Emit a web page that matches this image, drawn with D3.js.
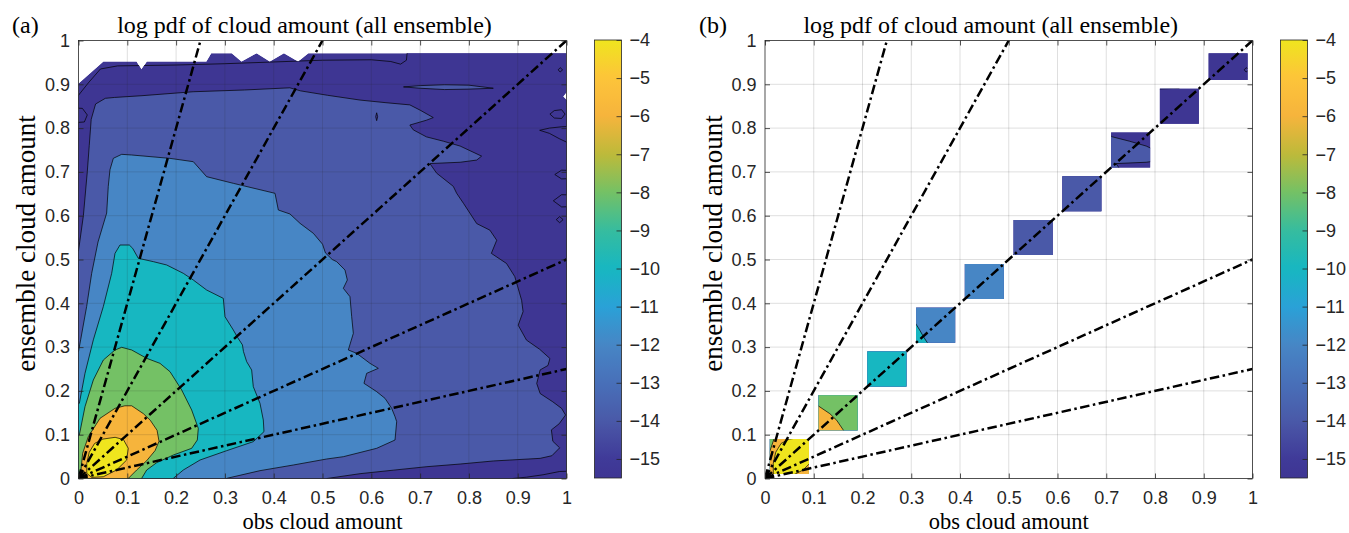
<!DOCTYPE html>
<html>
<head>
<meta charset="utf-8">
<script src="https://cdn.jsdelivr.net/npm/d3@7/dist/d3.min.js"></script>
<style>
  html, body { margin: 0; padding: 0; background: #fff; }
  svg { display: block; }
</style>
</head>
<body>
<svg id="fig" width="1349" height="533" xmlns="http://www.w3.org/2000/svg"></svg>
<script>
// ---------- axis ticks ----------
const tickValues = [0, 0.1, 0.2, 0.3, 0.4, 0.5, 0.6, 0.7, 0.8, 0.9, 1];
const tickLabels = ["0", "0.1", "0.2", "0.3", "0.4", "0.5", "0.6", "0.7", "0.8", "0.9", "1"];
const cbarTickValues = [-4, -5, -6, -7, -8, -9, -10, -11, -12, -13, -14, -15];
const cbarTickLabels = ["−4", "−5", "−6", "−7", "−8", "−9", "−10", "−11", "−12", "−13", "−14", "−15"];
const colorLimits = [-15.5, -4];

// ---------- colour map (value -> colour) ----------
const cmapValues = [-15.5, -15, -14, -13, -12, -11, -10, -9, -8, -7, -6, -5, -4];
const cmapColors = ["#3e3693", "#403a98", "#4a59a8", "#4870b9", "#4786c5", "#2aa1d7",
                    "#17b7c1", "#36bc9f", "#74c165", "#bdba3a", "#f6b43c", "#fdc43a", "#efe51e"];

// ---------- reference rays y = k * x ----------
const rayRatios = [4, 2, 1, 0.5, 0.25];

// ---------- diagonal bins (panel b) ----------
const diagBinStarts = [0.01, 0.11, 0.21, 0.31, 0.41, 0.51, 0.61, 0.71, 0.81, 0.91];
const diagBinWidth = 0.08;

// ---------- sampled region (upper edge of the ensemble cloud amounts) ----------
const dataCeiling = [[-0.02, 0.902], [0, 0.902], [0.051, 0.952], [0.119, 0.952], [0.129, 0.934],
  [0.140, 0.952], [0.262, 0.952], [0.272, 0.971], [0.314, 0.971], [0.334, 0.952], [0.365, 0.971],
  [0.392, 0.952], [0.421, 0.971], [0.450, 0.952], [0.471, 0.971], [1.0, 0.971], [1.0, 0.882],
  [0.993, 0.872], [1.0, 0.864], [1.03, 0.864], [1.03, -0.03], [-0.02, -0.03]];

// ---------- contour levels of log pdf ----------
const contourLevels = [-16, -14, -12, -10, -8, -6, -4];

// log pdf >= -16 (outer ring followed by the low-value pockets)
const above16 = [
  [[-0.02, 0.870], [0.0, 0.875], [0.02, 0.903], [0.045, 0.935], [0.08, 0.942], [0.2, 0.944],
   [0.3, 0.947], [0.4, 0.951], [0.5, 0.955], [0.6, 0.956], [0.64, 0.952], [0.66, 0.946],
   [0.672, 0.955], [0.68, 1.05], [1.06, 1.05], [1.06, -0.06], [-0.02, -0.06]],
  [[-0.04, 0.848], [0.008, 0.845], [0.018, 0.83], [0.012, 0.814], [-0.04, 0.81]],
  [[0.983, 0.933], [0.987, 0.938], [0.992, 0.933], [0.987, 0.928]],
  [[0.966, 0.832], [0.975, 0.840], [0.99, 0.842], [0.997, 0.832], [0.99, 0.822], [0.975, 0.823]],
  [[1.04, 0.805], [0.99, 0.803], [0.965, 0.80], [0.945, 0.795], [0.965, 0.788], [0.985, 0.776], [1.0, 0.768], [1.04, 0.766]],
  [[0.976, 0.694], [0.99, 0.704], [1.04, 0.702], [1.04, 0.686], [0.99, 0.684]],
  [[0.973, 0.634], [0.99, 0.648], [1.04, 0.646], [1.04, 0.622], [0.99, 0.620]],
  [[0.979, 0.591], [0.986, 0.598], [0.993, 0.591], [0.986, 0.584]],
  [[0.88, -0.05], [0.89, 0.0], [0.918, 0.003], [0.952, 0.0085], [0.986, 0.016], [1.04, 0.018], [1.04, -0.05]]
];

// log pdf >= -14
const above14 = [
  [[-0.02, 0.50], [0.0, 0.52], [0.01, 0.60], [0.018, 0.70], [0.022, 0.76], [0.026, 0.82], [0.035, 0.855],
   [0.055, 0.868], [0.074, 0.870], [0.13, 0.874], [0.235, 0.883], [0.34, 0.887], [0.433, 0.892],
   [0.455, 0.885], [0.51, 0.875], [0.577, 0.864], [0.63, 0.858], [0.679, 0.853], [0.700, 0.841],
   [0.727, 0.824], [0.713, 0.818], [0.679, 0.807], [0.686, 0.796], [0.713, 0.780], [0.748, 0.770],
   [0.782, 0.759], [0.826, 0.736], [0.816, 0.727], [0.782, 0.722], [0.720, 0.719], [0.734, 0.697],
   [0.768, 0.667], [0.775, 0.651], [0.789, 0.628], [0.816, 0.582], [0.843, 0.567], [0.857, 0.544],
   [0.846, 0.514], [0.877, 0.491], [0.894, 0.461], [0.908, 0.407], [0.911, 0.381], [0.901, 0.350],
   [0.918, 0.316], [0.945, 0.295], [0.966, 0.274], [0.962, 0.258], [0.946, 0.248], [0.939, 0.217],
   [0.946, 0.194], [0.972, 0.175], [0.99, 0.16], [0.998, 0.145], [0.985, 0.125], [0.969, 0.111],
   [0.972, 0.085], [0.986, 0.07], [0.97, 0.052], [0.946, 0.046], [0.850, 0.040], [0.782, 0.033],
   [0.714, 0.027], [0.645, 0.019], [0.577, 0.011], [0.509, 0.0], [0.50, -0.02], [-0.02, -0.02]],
  [[0.666, 0.894], [0.70, 0.897], [0.75, 0.899], [0.80, 0.898], [0.85, 0.891], [0.80, 0.889], [0.75, 0.888], [0.70, 0.891]],
  [[0.611, 0.835], [0.613, 0.826], [0.611, 0.817], [0.609, 0.826]]
];

// log pdf >= -12
const above12 = [
  [[-0.02, 0.28], [0.0, 0.29], [0.0044, 0.3166], [0.0167, 0.3927], [0.0270, 0.4684], [0.040, 0.54],
   [0.0577, 0.606], [0.061, 0.667], [0.0645, 0.705], [0.0714, 0.731], [0.0885, 0.7401], [0.1090, 0.7386],
   [0.1875, 0.7309], [0.2353, 0.7233], [0.2626, 0.6891], [0.3173, 0.6739], [0.4027, 0.6511],
   [0.4095, 0.6130], [0.4334, 0.6039], [0.4539, 0.5826], [0.4812, 0.5598], [0.500, 0.535],
   [0.506, 0.515], [0.520, 0.500], [0.5290, 0.4951], [0.5461, 0.4760], [0.5509, 0.4532],
   [0.5427, 0.4342], [0.5563, 0.4151], [0.5598, 0.3694], [0.5632, 0.3314], [0.5529, 0.2934],
   [0.5700, 0.2858], [0.5973, 0.2629], [0.6144, 0.2515], [0.5905, 0.2401], [0.5850, 0.2173],
   [0.6110, 0.1983], [0.6281, 0.1830], [0.6417, 0.1602], [0.6486, 0.1412], [0.6520, 0.1298],
   [0.6486, 0.0879], [0.6110, 0.0689], [0.5427, 0.0498], [0.5085, 0.0445], [0.4402, 0.0308],
   [0.3719, 0.0179], [0.3036, 0.0003], [0.30, -0.02], [-0.02, -0.02]]
];

// log pdf >= -10
const above10 = [
  [[-0.02, 0.17], [0.0017, 0.1716], [0.0133, 0.2401], [0.0304, 0.3166], [0.0509, 0.3927],
   [0.0680, 0.4684], [0.0748, 0.5140], [0.0850, 0.5331], [0.1041, 0.5331], [0.1110, 0.5255],
   [0.1226, 0.5027], [0.1534, 0.4951], [0.1807, 0.4875], [0.2148, 0.4684], [0.2353, 0.4531],
   [0.2626, 0.4303], [0.2967, 0.4113], [0.3002, 0.3694], [0.3173, 0.3390], [0.326, 0.322],
   [0.336, 0.305], [0.338, 0.29], [0.3446, 0.2668], [0.3548, 0.2477], [0.3582, 0.2097],
   [0.3719, 0.1716], [0.3787, 0.1336], [0.3801, 0.1070], [0.3582, 0.0841], [0.3036, 0.0635],
   [0.2490, 0.0422], [0.2148, 0.0194], [0.1943, 0.0003], [0.19, -0.02], [-0.02, -0.02]]
];

// log pdf >= -8
const above8 = [
  [[-0.02, 0.095], [0.0017, 0.0993], [0.0133, 0.1640], [0.0304, 0.2249], [0.0509, 0.2705],
   [0.0748, 0.2934], [0.0885, 0.2995], [0.1090, 0.2934], [0.1397, 0.2744], [0.1670, 0.2629],
   [0.1875, 0.2439], [0.2114, 0.2021], [0.2319, 0.1564], [0.2455, 0.1145], [0.2435, 0.0879],
   [0.2319, 0.0689], [0.1943, 0.0536], [0.1602, 0.0361], [0.1397, 0.0194], [0.1294, 0.0003],
   [0.128, -0.02], [-0.02, -0.02]]
];

// log pdf >= -6
const above6 = [
  [[-0.02, 0.005], [0.0044, 0.0118], [0.0085, 0.0575], [0.0201, 0.0955], [0.0441, 0.1374],
   [0.0748, 0.1602], [0.095, 0.166], [0.109, 0.166], [0.133, 0.148], [0.147, 0.133], [0.161, 0.110],
   [0.165, 0.085], [0.1568, 0.0635], [0.1397, 0.0407], [0.1192, 0.0194], [0.1021, 0.0003],
   [0.10, -0.02], [-0.02, -0.02]]
];

// log pdf >= -4
const above4 = [
  [[0.017, 0.0346], [0.022, 0.06], [0.033, 0.080], [0.05, 0.090], [0.075, 0.094], [0.092, 0.089],
   [0.102, 0.069], [0.0987, 0.0422], [0.078, 0.0194], [0.0509, 0.004], [0.027, 0.0026], [0.017, 0.0118]]
];

const levelRegions = [above16, above14, above12, above10, above8, above6, above4]
  .map((rings, i) => ({ level: contourLevels[i], rings }));

// ---------- drawing ----------
const svg = d3.select("#fig");
const defs = svg.append("defs");
const serif = "'Liberation Serif', 'Times New Roman', serif";
const sans = "'Liberation Sans', Arial, Helvetica, sans-serif";
const ink = "#262626";

const cmap = d3.scaleLinear().domain(cmapValues).range(cmapColors).clamp(true);

// colour bar gradient
const grad = defs.append("linearGradient").attr("id", "cbar-grad")
  .attr("x1", 0).attr("y1", 1).attr("x2", 0).attr("y2", 0);
d3.range(0, 65).forEach(i => {
  const v = colorLimits[0] + (colorLimits[1] - colorLimits[0]) * i / 64;
  grad.append("stop").attr("offset", i / 64).attr("stop-color", cmap(v));
});

const panels = [
  { key: "a", left: 78.5, top: 40.5, width: 488, height: 438, cbLeft: 594.5, tagX: 12, labelX: 35, diagonalOnly: false, tag: "(a)" },
  { key: "b", left: 765, top: 40.5, width: 487.5, height: 438, cbLeft: 1280.5, tagX: 699, labelX: 721.5, diagonalOnly: true, tag: "(b)" }
];

function styleAxis(g, withText) {
  g.select(".domain").remove();
  g.selectAll(".tick line").attr("stroke", ink).attr("stroke-width", 0.8);
  g.selectAll(".tick text").attr("fill", ink)
    .style("font-family", sans).style("font-size", "18px");
  if (!withText) g.selectAll(".tick text").remove();
}

panels.forEach(p => {
  const x = d3.scaleLinear().domain([0, 1]).range([p.left, p.left + p.width]);
  const y = d3.scaleLinear().domain([0, 1]).range([p.top + p.height, p.top]);
  const line = d3.line().x(d => x(d[0])).y(d => y(d[1]));
  const ringsPath = rings => rings.map(r => line(r) + "Z").join("");

  defs.append("clipPath").attr("id", "plot-" + p.key).append("rect")
    .attr("x", p.left).attr("y", p.top).attr("width", p.width).attr("height", p.height);
  defs.append("clipPath").attr("id", "domain-" + p.key).append("path")
    .attr("d", ringsPath([dataCeiling]));
  if (p.diagonalOnly) {
    const cp = defs.append("clipPath").attr("id", "bins-" + p.key);
    diagBinStarts.forEach(b => {
      cp.append("rect")
        .attr("x", x(b)).attr("y", y(b + diagBinWidth))
        .attr("width", x(b + diagBinWidth) - x(b))
        .attr("height", y(b) - y(b + diagBinWidth));
    });
  }

  const root = svg.append("g").attr("class", "panel-" + p.key);

  // filled contours
  let field = root.append("g").attr("clip-path", `url(#plot-${p.key})`)
    .append("g").attr("clip-path", `url(#domain-${p.key})`);
  if (p.diagonalOnly) field = field.append("g").attr("clip-path", `url(#bins-${p.key})`);

  field.append("path").attr("d", ringsPath([dataCeiling])).attr("fill", cmap(colorLimits[0]));
  levelRegions.forEach(r => {
    field.append("path")
      .attr("d", ringsPath(r.rings))
      .attr("fill", cmap(r.level))
      .attr("fill-rule", "evenodd")
      .attr("stroke", "#000")
      .attr("stroke-width", 0.7)
      .attr("stroke-linejoin", "round");
  });

  // grid
  const grid = root.append("g").attr("stroke", "rgba(38,38,38,0.15)").attr("stroke-width", 1);
  tickValues.slice(1, -1).forEach(t => {
    grid.append("line").attr("x1", x(t)).attr("x2", x(t)).attr("y1", y(0)).attr("y2", y(1));
    grid.append("line").attr("x1", x(0)).attr("x2", x(1)).attr("y1", y(t)).attr("y2", y(t));
  });

  // rays
  const rays = root.append("g").attr("clip-path", `url(#plot-${p.key})`);
  rayRatios.forEach(k => {
    const end = k >= 1 ? [1 / k, 1] : [1, k];
    rays.append("path").attr("d", line([[0, 0], end]))
      .attr("fill", "none").attr("stroke", "#000").attr("stroke-width", 2.5)
      .attr("stroke-dasharray", "9.5,3.5,2.5,3.5");
  });

  // axes (ticks inside, box)
  const fmt = (d, i) => tickLabels[i];
  root.append("g").attr("transform", `translate(0,${y(0)})`)
    .call(d3.axisBottom(x).tickValues(tickValues).tickFormat(fmt).tickSizeInner(-5).tickSizeOuter(0).tickPadding(13))
    .call(g => styleAxis(g, true));
  root.append("g").attr("transform", `translate(${x(0)},0)`)
    .call(d3.axisLeft(y).tickValues(tickValues).tickFormat(fmt).tickSizeInner(-5).tickSizeOuter(0).tickPadding(8.5))
    .call(g => styleAxis(g, true));
  root.append("g").attr("transform", `translate(0,${y(1)})`)
    .call(d3.axisTop(x).tickValues(tickValues).tickSizeInner(-5).tickSizeOuter(0))
    .call(g => styleAxis(g, false));
  root.append("g").attr("transform", `translate(${x(1)},0)`)
    .call(d3.axisRight(y).tickValues(tickValues).tickSizeInner(-5).tickSizeOuter(0))
    .call(g => styleAxis(g, false));
  root.append("rect").attr("x", x(0)).attr("y", y(1)).attr("width", x(1) - x(0)).attr("height", y(0) - y(1))
    .attr("fill", "none").attr("stroke", ink).attr("stroke-width", 0.8);

  // colour bar
  const cbW = 27;
  const cy = d3.scaleLinear().domain(colorLimits).range([p.top + p.height - 0.5, p.top - 0.5]);
  root.append("rect").attr("x", p.cbLeft).attr("y", cy(colorLimits[1]))
    .attr("width", cbW).attr("height", cy(colorLimits[0]) - cy(colorLimits[1]))
    .attr("fill", "url(#cbar-grad)").attr("stroke", ink).attr("stroke-width", 0.8);
  root.append("g").attr("transform", `translate(${p.cbLeft + cbW},0)`)
    .call(d3.axisRight(cy).tickValues(cbarTickValues).tickFormat((d, i) => cbarTickLabels[i])
      .tickSizeInner(-5).tickSizeOuter(0).tickPadding(8))
    .call(g => styleAxis(g, true));

  // texts
  const cx = (x(0) + x(1)) / 2;
  root.append("text").attr("x", cx - 18).attr("y", 33).attr("text-anchor", "middle")
    .style("font-family", serif).style("font-size", "24px").attr("fill", "#000")
    .text("log pdf of cloud amount (all ensemble)");
  root.append("text").attr("x", p.tagX).attr("y", 33)
    .style("font-family", serif).style("font-size", "24px").attr("fill", "#000")
    .text(p.tag);
  root.append("text").attr("x", cx).attr("y", 528.5).attr("text-anchor", "middle")
    .style("font-family", serif).style("font-size", "22.5px").attr("fill", "#000")
    .text("obs cloud amount");
  root.append("text")
    .attr("transform", `translate(${p.labelX},${(y(0) + y(1)) / 2 - 16}) rotate(-90)`)
    .attr("text-anchor", "middle")
    .style("font-family", serif).style("font-size", "27px").attr("fill", "#000")
    .text("ensemble cloud amount");
});
</script>
</body>
</html>
